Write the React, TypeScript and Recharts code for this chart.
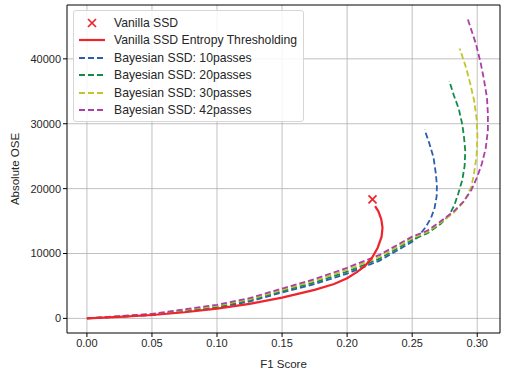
import { ComposedChart, Line, Scatter, XAxis, YAxis, CartesianGrid, Legend, ReferenceLine } from 'recharts';

// F1 score vs absolute open-set error
const vanillaPoint = [{ f: 0.2195, v: 18350 }];

const entropyThreshold = [
  { f: 0, v: 0 }, { f: 0.025, v: 230 }, { f: 0.05, v: 520 }, { f: 0.075, v: 950 },
  { f: 0.1, v: 1500 }, { f: 0.125, v: 2250 }, { f: 0.15, v: 3200 }, { f: 0.175, v: 4400 },
  { f: 0.19, v: 5300 }, { f: 0.2, v: 6200 }, { f: 0.208, v: 7200 }, { f: 0.2138, v: 8100 },
  { f: 0.219, v: 9300 }, { f: 0.2235, v: 10900 }, { f: 0.2265, v: 12600 }, { f: 0.2272, v: 14000 },
  { f: 0.2262, v: 15300 }, { f: 0.224, v: 16500 }, { f: 0.2215, v: 17300 },
];

const passes10 = [
  { f: 0, v: 0 }, { f: 0.05, v: 500 }, { f: 0.1, v: 1650 }, { f: 0.125, v: 2600 },
  { f: 0.15, v: 4000 }, { f: 0.175, v: 5300 }, { f: 0.2, v: 6900 }, { f: 0.225, v: 8900 },
  { f: 0.25, v: 11800 }, { f: 0.2555, v: 12800 }, { f: 0.2605, v: 14100 }, { f: 0.2645, v: 15500 },
  { f: 0.2672, v: 17000 }, { f: 0.2688, v: 18800 }, { f: 0.269, v: 20500 }, { f: 0.2682, v: 22300 },
  { f: 0.2664, v: 24800 }, { f: 0.263, v: 27100 }, { f: 0.2595, v: 29100 },
];

const passes20 = [
  { f: 0, v: 0 }, { f: 0.05, v: 570 }, { f: 0.1, v: 1800 }, { f: 0.125, v: 2780 },
  { f: 0.15, v: 4200 }, { f: 0.175, v: 5550 }, { f: 0.2, v: 7200 }, { f: 0.225, v: 9200 },
  { f: 0.25, v: 12100 }, { f: 0.2615, v: 13100 }, { f: 0.2715, v: 14500 }, { f: 0.2785, v: 15900 },
  { f: 0.2825, v: 17500 }, { f: 0.2855, v: 19300 }, { f: 0.2885, v: 21300 }, { f: 0.2903, v: 23500 },
  { f: 0.2908, v: 25800 }, { f: 0.2898, v: 28000 }, { f: 0.2885, v: 29900 }, { f: 0.2858, v: 32300 },
  { f: 0.282, v: 34400 }, { f: 0.2785, v: 36600 },
];

const passes30 = [
  { f: 0, v: 0 }, { f: 0.05, v: 640 }, { f: 0.1, v: 1950 }, { f: 0.125, v: 2950 },
  { f: 0.15, v: 4400 }, { f: 0.175, v: 5800 }, { f: 0.2, v: 7500 }, { f: 0.225, v: 9500 },
  { f: 0.25, v: 12350 }, { f: 0.2615, v: 13300 }, { f: 0.2715, v: 14700 }, { f: 0.282, v: 16300 },
  { f: 0.288, v: 17600 }, { f: 0.292, v: 18800 }, { f: 0.2955, v: 20300 }, { f: 0.2975, v: 22300 },
  { f: 0.2995, v: 25000 }, { f: 0.3002, v: 28000 }, { f: 0.2995, v: 30800 }, { f: 0.2975, v: 33700 },
  { f: 0.2945, v: 36300 }, { f: 0.2915, v: 38600 }, { f: 0.2865, v: 41600 },
];

const passes42 = [
  { f: 0, v: 0 }, { f: 0.05, v: 710 }, { f: 0.1, v: 2100 }, { f: 0.125, v: 3120 },
  { f: 0.15, v: 4600 }, { f: 0.175, v: 6050 }, { f: 0.2, v: 7800 }, { f: 0.225, v: 9800 },
  { f: 0.25, v: 12600 }, { f: 0.2615, v: 13500 }, { f: 0.2715, v: 14900 }, { f: 0.282, v: 16500 },
  { f: 0.2895, v: 18000 }, { f: 0.2955, v: 19800 }, { f: 0.3, v: 21800 }, { f: 0.3035, v: 23800 },
  { f: 0.3065, v: 26200 }, { f: 0.3082, v: 29000 }, { f: 0.3082, v: 31500 }, { f: 0.3075, v: 34000 },
  { f: 0.305, v: 37000 }, { f: 0.3025, v: 39500 }, { f: 0.299, v: 42300 }, { f: 0.2926, v: 46200 },
];

const xTicks = [0, 0.05, 0.1, 0.15, 0.2, 0.25, 0.3];
const yTicks = [0, 10000, 20000, 30000, 40000];
const X_DOMAIN: [number, number] = [-0.0153, 0.3175];
const Y_DOMAIN: [number, number] = [-2250, 48300];

const FONT = '"Liberation Sans", Arial, Helvetica, sans-serif';

const dashed = [
  { name: 'Bayesian SSD: 10passes', data: passes10, color: '#2b5db3' },
  { name: 'Bayesian SSD: 20passes', data: passes20, color: '#118c47' },
  { name: 'Bayesian SSD: 30passes', data: passes30, color: '#c4c42c' },
  { name: 'Bayesian SSD: 42passes', data: passes42, color: '#ab3fa6' },
];

const RED = '#f0242b';

const XMark = (props: any) => {
  const { cx, cy } = props;
  const r = 4;
  return (
    <g stroke={RED} strokeWidth={1.7}>
      <line x1={cx - r} y1={cy - r} x2={cx + r} y2={cy + r} />
      <line x1={cx - r} y1={cy + r} x2={cx + r} y2={cy - r} />
    </g>
  );
};

const LegendBox = () => {
  const rows = [
    { label: 'Vanilla SSD', kind: 'x', color: RED },
    { label: 'Vanilla SSD Entropy Thresholding', kind: 'solid', color: RED },
    ...dashed.map(d => ({ label: d.name, kind: 'dash', color: d.color })),
  ];
  return (
    <div style={{
      border: '1px solid #d6d6d6', borderRadius: 3, background: 'rgba(255,255,255,0.85)',
      padding: '3px 6px 2px 5px', fontFamily: FONT, fontSize: 12.2, color: '#262626',
    }}>
      {rows.map(r => (
        <div key={r.label} style={{ display: 'flex', alignItems: 'center', height: 17.5, whiteSpace: 'nowrap' }}>
          <svg width={26} height={10} style={{ marginRight: 9 }}>
            {r.kind === 'x' && (
              <g stroke={r.color} strokeWidth={1.7}>
                <line x1={9} y1={1} x2={17} y2={9} />
                <line x1={9} y1={9} x2={17} y2={1} />
              </g>
            )}
            {r.kind === 'solid' && <line x1={0} y1={5} x2={26} y2={5} stroke={r.color} strokeWidth={2.2} />}
            {r.kind === 'dash' && <line x1={0} y1={5} x2={26} y2={5} stroke={r.color} strokeWidth={1.8} strokeDasharray="6 3" />}
          </svg>
          <span>{r.label}</span>
        </div>
      ))}
    </div>
  );
};

const App = () => {
  return (
    <div style={{ position: 'absolute', left: 0, top: 0, background: '#fff' }}>
      <ComposedChart width={505} height={373} margin={{ top: 5, right: 5, bottom: 0, left: 0 }}>
        <CartesianGrid stroke="#b0b0b0" strokeWidth={0.8} horizontalValues={yTicks} verticalValues={xTicks} />
        <XAxis
          type="number"
          dataKey="f"
          domain={X_DOMAIN}
          ticks={xTicks}
          allowDataOverflow
          tickFormatter={(t: number) => t.toFixed(2)}
          height={40}
          tickSize={4}
          stroke="#000"
          tick={{ fill: '#262626', fontSize: 11, fontFamily: FONT }}
          label={{ value: 'F1 Score', position: 'insideBottom', offset: 5, fill: '#262626', fontSize: 11.5, fontFamily: FONT }}
        />
        <YAxis
          type="number"
          dataKey="v"
          domain={Y_DOMAIN}
          ticks={yTicks}
          allowDataOverflow
          width={67}
          tickSize={4}
          stroke="#000"
          tick={{ fill: '#262626', fontSize: 11, fontFamily: FONT }}
          label={{ value: 'Absolute OSE', angle: -90, position: 'center', dx: -19, fill: '#262626', fontSize: 11.5, fontFamily: FONT }}
        />
        <ReferenceLine x={X_DOMAIN[1]} stroke="#000" strokeWidth={1} />
        <ReferenceLine y={Y_DOMAIN[1]} stroke="#000" strokeWidth={1} />

        {dashed.map(d => (
          <Line
            key={d.name}
            data={d.data}
            dataKey="v"
            name={d.name}
            type="linear"
            stroke={d.color}
            strokeWidth={1.8}
            strokeDasharray="6 3"
            dot={false}
            isAnimationActive={false}
          />
        ))}
        <Line
          data={entropyThreshold}
          dataKey="v"
          name="Vanilla SSD Entropy Thresholding"
          type="linear"
          stroke={RED}
          strokeWidth={2.2}
          dot={false}
          isAnimationActive={false}
        />
        <Scatter data={vanillaPoint} dataKey="v" name="Vanilla SSD" shape={XMark} isAnimationActive={false} />
        <Legend
          layout="horizontal"
          verticalAlign="middle"
          align="center"
          content={() => <LegendBox />}
          wrapperStyle={{ left: 73, top: 10, width: 'auto', height: 'auto' }}
        />
      </ComposedChart>
    </div>
  );
};

export default App;
